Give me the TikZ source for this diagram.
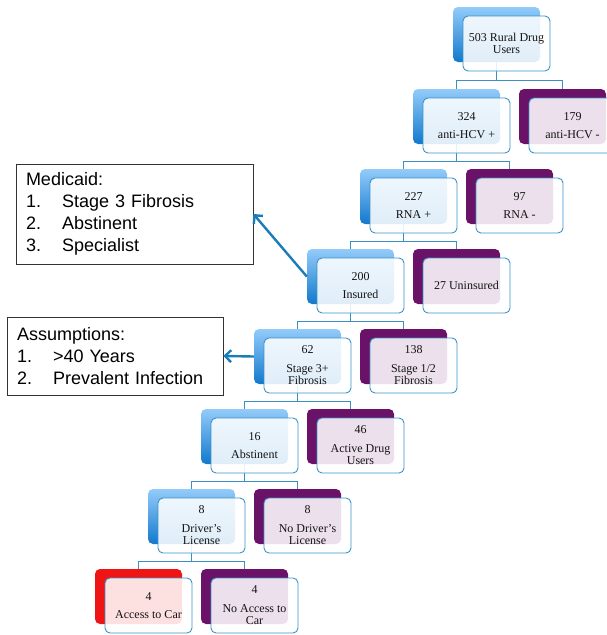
\documentclass[tikz,border=0pt]{standalone}
\usepackage{fontspec}
\setmainfont{Liberation Serif}
\newfontfamily\notefont{Liberation Sans}
\usepackage{tikz}
\usetikzlibrary{arrows.meta, positioning}

\definecolor{edgeblue}{HTML}{3A93C8}
\definecolor{paleblue}{HTML}{93CBFA}
\definecolor{deepblue}{HTML}{1279CC}
\definecolor{plum}{HTML}{6A1268}
\definecolor{alertred}{HTML}{F01515}
\definecolor{linkblue}{HTML}{3A8FC4}
\definecolor{arrowblue}{HTML}{1B7DB8}

\newcommand{\listnum}[1]{\makebox[36pt][l]{#1}}

\tikzset{
  back/.style={rectangle, rounded corners=5pt, minimum width=87pt, minimum height=55pt, inner sep=0pt, on grid},
  yesbox/.style={back, top color=paleblue, bottom color=deepblue},
  nobox/.style={back, fill=plum},
  redbox/.style={back, fill=alertred},
  card/.style={rectangle, rounded corners=5pt, draw=edgeblue, line width=0.9pt, fill=white, fill opacity=0.87, text opacity=1,
    minimum width=87pt, minimum height=55pt, inner sep=1pt, align=center, text=black!92,
    font=\fontsize{12}{12.5}\selectfont, on grid},
  link/.style={draw=linkblue, line width=0.9pt},
  note/.style={rectangle, draw=black!80, line width=0.8pt, fill=white, align=left, inner xsep=10pt, inner ysep=0pt,
    font={\notefont\fontsize{18}{22}\selectfont}},
  callout/.style={draw=arrowblue, line width=2.4pt, -{Straight Barb[length=6pt, width=12pt]}}
}

\begin{document}
\begin{tikzpicture}[x=1pt, y=-1pt, node distance=80pt and 53pt]
  \useasboundingbox (0,0) rectangle (606,635);

  % backing boxes
  \node (B0) [yesbox] at (496.5,34.5) {};
  \node (B1) [yesbox, below left=82pt and 40pt of B0] {};
  \node (C1) [nobox, right=106pt of B1] {};
  \node (B2) [yesbox, below left=of B1] {};
  \node (C2) [nobox, right=106pt of B2] {};
  \node (B3) [yesbox, below left=of B2] {};
  \node (C3) [nobox, right=106pt of B3] {};
  \node (B4) [yesbox, below left=of B3] {};
  \node (C4) [nobox, right=106pt of B4] {};
  \node (B5) [yesbox, below left=of B4] {};
  \node (C5) [nobox, right=106pt of B5] {};
  \node (B6) [yesbox, below left=of B5] {};
  \node (C6) [nobox, right=106pt of B6] {};
  \node (B7) [redbox, below left=of B6] {};
  \node (C7) [nobox, right=106pt of B7] {};

  % connectors
  \draw[link] (B0.south) -- ++(0pt,-18pt) coordinate (J0) -| (B1.north);
  \draw[link] (J0) -| (C1.north);
  \draw[link] (B1.south) -- ++(0pt,-17pt) coordinate (J1) -| (B2.north);
  \draw[link] (J1) -| (C2.north);
  \draw[link] (B2.south) -- ++(0pt,-17pt) coordinate (J2) -| (B3.north);
  \draw[link] (J2) -| (C3.north);
  \draw[link] (B3.south) -- ++(0pt,-17pt) coordinate (J3) -| (B4.north);
  \draw[link] (J3) -| (C4.north);
  \draw[link] (B4.south) -- ++(0pt,-17pt) coordinate (J4) -| (B5.north);
  \draw[link] (J4) -| (C5.north);
  \draw[link] (B5.south) -- ++(0pt,-17pt) coordinate (J5) -| (B6.north);
  \draw[link] (J5) -| (C6.north);
  \draw[link] (B6.south) -- ++(0pt,-17pt) coordinate (J6) -| (B7.north);
  \draw[link] (J6) -| (C7.north);

  % front cards
  \node (T0) [card, below right=9pt and 10pt of B0] {503 Rural Drug\\Users};
  \node (T1) [card, below right=9pt and 10pt of B1] {324\\[6pt]anti-HCV +};
  \node (U1) [card, below right=9pt and 10pt of C1] {179\\[6pt]anti-HCV -};
  \node (T2) [card, below right=9pt and 10pt of B2] {227\\[6pt]RNA +};
  \node (U2) [card, below right=9pt and 10pt of C2] {97\\[6pt]RNA -};
  \node (T3) [card, below right=9pt and 10pt of B3] {200\\[6pt]Insured};
  \node (U3) [card, below right=9pt and 10pt of C3] {27 Uninsured};
  \node (T4) [card, below right=9pt and 10pt of B4] {62\\[6pt]Stage 3+\\Fibrosis};
  \node (U4) [card, below right=9pt and 10pt of C4] {138\\[6pt]Stage 1/2\\Fibrosis};
  \node (T5) [card, below right=9pt and 10pt of B5] {16\\[6pt]Abstinent};
  \node (U5) [card, below right=9pt and 10pt of C5] {46\\[6pt]Active Drug\\Users};
  \node (T6) [card, below right=9pt and 10pt of B6] {8\\[6pt]Driver's\\License};
  \node (U6) [card, below right=9pt and 10pt of C6] {8\\[6pt]No Driver's\\License};
  \node (T7) [card, below right=9pt and 10pt of B7] {4\\[5pt]Access to Car};
  \node (U7) [card, below right=9pt and 10pt of C7] {4\\[6pt]No Access to\\Car};

  % side notes
  \node (med) [note, text width=217pt, minimum height=100pt] at (134.5,214)
    {Medicaid:\\\listnum{1.}Stage 3 Fibrosis\\\listnum{2.}Abstinent\\\listnum{3.}Specialist};
  \node (ass) [note, text width=196pt, minimum height=78pt] at (115,356)
    {Assumptions:\\\listnum{1.}>40 Years\\\listnum{2.}Prevalent Infection};
  \draw[callout] (B3.west) -- (med.east);
  \draw[callout] (B4.west) -- (ass.east);
\end{tikzpicture}
\end{document}
